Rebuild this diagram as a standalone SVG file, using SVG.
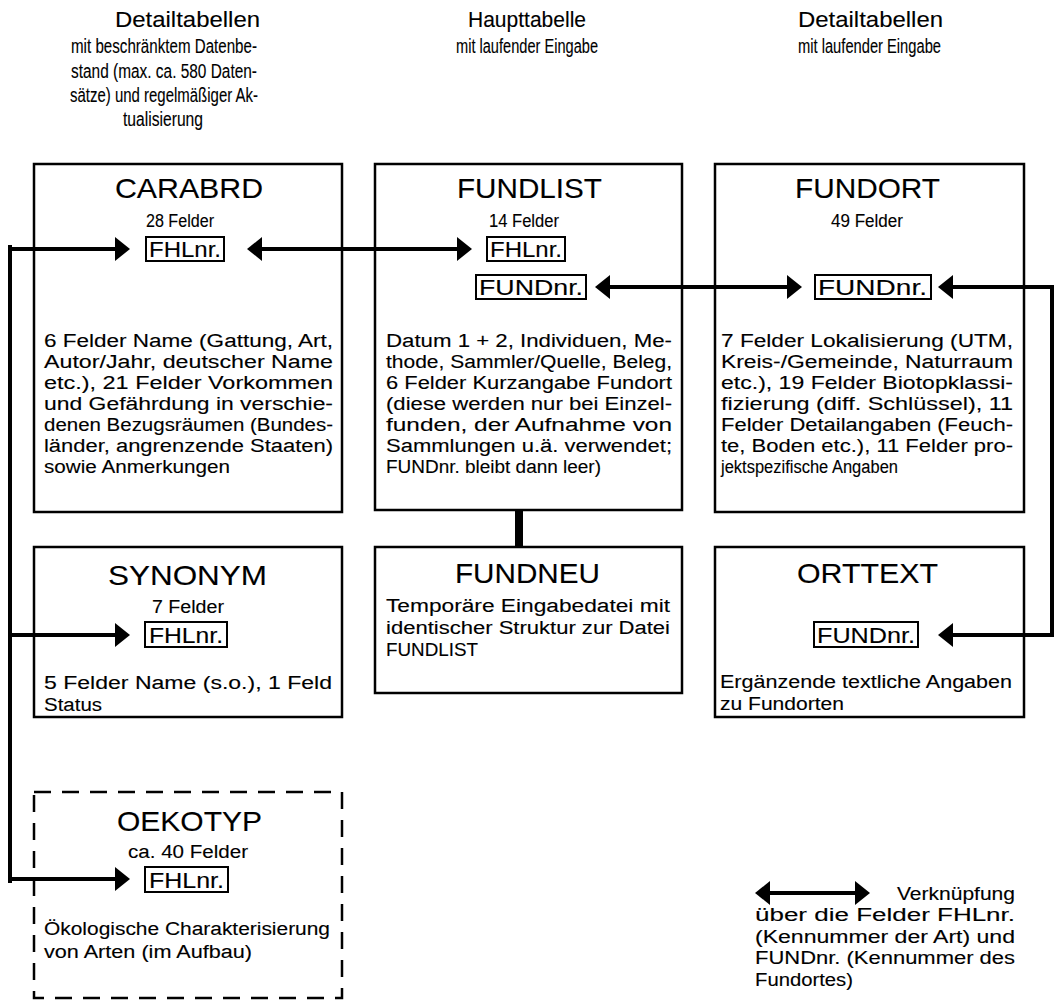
<svg xmlns="http://www.w3.org/2000/svg" width="1059" height="1001" viewBox="0 0 1059 1001">
<style>
text{font-family:"Liberation Sans",Arial,sans-serif;fill:#000;stroke:#000;stroke-width:0.12}
.hd{font-size:22px}
.hs{font-size:20px}
.ti{font-size:28px}
.su{font-size:18px}
.ky{font-size:22px}
.bd{font-size:18px}
.box{fill:#fff;stroke:#000;stroke-width:2.5}
.dash{fill:#fff;stroke:#000;stroke-width:2.5;stroke-dasharray:17 11}
.kbox{fill:none;stroke:#000;stroke-width:2}
.conn{fill:none;stroke:#000;stroke-width:4}
</style>
<defs>
<marker id="ah" viewBox="0 0 15 24" markerWidth="15" markerHeight="24" refX="3" refY="12" orient="auto-start-reverse" markerUnits="userSpaceOnUse"><path d="M0,0 L15,12 L0,24 z" fill="#000"/></marker>
</defs>
<rect width="1059" height="1001" fill="#fff"/>

<g id="headers">
<text class="hd" x="115" y="27" textLength="145" lengthAdjust="spacingAndGlyphs">Detailtabellen</text>
<text class="hs" x="71" y="53" textLength="186" lengthAdjust="spacingAndGlyphs">mit beschränktem Datenbe-</text>
<text class="hs" x="71" y="78" textLength="186" lengthAdjust="spacingAndGlyphs">stand (max. ca. 580 Daten-</text>
<text class="hs" x="70" y="102" textLength="188" lengthAdjust="spacingAndGlyphs">sätze) und regelmäßiger Ak-</text>
<text class="hs" x="123" y="126" textLength="80" lengthAdjust="spacingAndGlyphs">tualisierung</text>
<text class="hd" x="468" y="27" textLength="118" lengthAdjust="spacingAndGlyphs">Haupttabelle</text>
<text class="hs" x="456" y="53" textLength="142" lengthAdjust="spacingAndGlyphs">mit laufender Eingabe</text>
<text class="hd" x="798" y="27" textLength="145" lengthAdjust="spacingAndGlyphs">Detailtabellen</text>
<text class="hs" x="798" y="53" textLength="143" lengthAdjust="spacingAndGlyphs">mit laufender Eingabe</text>
</g>

<g id="carabrd">
<rect class="box" x="34" y="164" width="308" height="348"/>
<text class="ti" x="115" y="198" textLength="148" lengthAdjust="spacingAndGlyphs">CARABRD</text>
<text class="su" x="146" y="227" textLength="68" lengthAdjust="spacingAndGlyphs">28 Felder</text>
<rect class="kbox" x="146" y="237" width="78" height="24"/>
<text class="ky" x="149" y="257" textLength="72" lengthAdjust="spacingAndGlyphs">FHLnr.</text>
<text class="bd" x="44" y="347" textLength="289" lengthAdjust="spacingAndGlyphs">6 Felder Name (Gattung, Art,</text>
<text class="bd" x="44" y="368" textLength="289" lengthAdjust="spacingAndGlyphs">Autor/Jahr, deutscher Name</text>
<text class="bd" x="44" y="389" textLength="289" lengthAdjust="spacingAndGlyphs">etc.), 21 Felder Vorkommen</text>
<text class="bd" x="44" y="410" textLength="289" lengthAdjust="spacingAndGlyphs">und Gefährdung in verschie-</text>
<text class="bd" x="44" y="431" textLength="289" lengthAdjust="spacingAndGlyphs">denen Bezugsräumen (Bundes-</text>
<text class="bd" x="44" y="452" textLength="289" lengthAdjust="spacingAndGlyphs">länder, angrenzende Staaten)</text>
<text class="bd" x="44" y="473" textLength="186" lengthAdjust="spacingAndGlyphs">sowie Anmerkungen</text>
</g>

<g id="fundlist">
<rect class="box" x="375" y="164" width="307" height="346"/>
<text class="ti" x="457" y="198" textLength="145" lengthAdjust="spacingAndGlyphs">FUNDLIST</text>
<text class="su" x="489" y="227" textLength="70" lengthAdjust="spacingAndGlyphs">14 Felder</text>
<rect class="kbox" x="487" y="237" width="78" height="24"/>
<text class="ky" x="490" y="257" textLength="72" lengthAdjust="spacingAndGlyphs">FHLnr.</text>
<rect class="kbox" x="476" y="275" width="110" height="24"/>
<text class="ky" x="479" y="295" textLength="104" lengthAdjust="spacingAndGlyphs">FUNDnr.</text>
<text class="bd" x="386" y="347" textLength="286" lengthAdjust="spacingAndGlyphs">Datum 1 + 2, Individuen, Me-</text>
<text class="bd" x="386" y="368" textLength="286" lengthAdjust="spacingAndGlyphs">thode, Sammler/Quelle, Beleg,</text>
<text class="bd" x="386" y="389" textLength="286" lengthAdjust="spacingAndGlyphs">6 Felder Kurzangabe Fundort</text>
<text class="bd" x="386" y="410" textLength="286" lengthAdjust="spacingAndGlyphs">(diese werden nur bei Einzel-</text>
<text class="bd" x="386" y="431" textLength="286" lengthAdjust="spacingAndGlyphs">funden, der Aufnahme von</text>
<text class="bd" x="386" y="452" textLength="286" lengthAdjust="spacingAndGlyphs">Sammlungen u.ä. verwendet;</text>
<text class="bd" x="386" y="473" textLength="215" lengthAdjust="spacingAndGlyphs">FUNDnr. bleibt dann leer)</text>
</g>

<g id="fundort">
<rect class="box" x="715" y="164" width="309" height="348"/>
<text class="ti" x="795" y="198" textLength="145" lengthAdjust="spacingAndGlyphs">FUNDORT</text>
<text class="su" x="831" y="227" textLength="72" lengthAdjust="spacingAndGlyphs">49 Felder</text>
<rect class="kbox" x="815" y="275" width="116" height="24"/>
<text class="ky" x="818" y="295" textLength="109" lengthAdjust="spacingAndGlyphs">FUNDnr.</text>
<text class="bd" x="721" y="347" textLength="292" lengthAdjust="spacingAndGlyphs">7 Felder Lokalisierung (UTM,</text>
<text class="bd" x="721" y="368" textLength="292" lengthAdjust="spacingAndGlyphs">Kreis-/Gemeinde, Naturraum</text>
<text class="bd" x="721" y="389" textLength="292" lengthAdjust="spacingAndGlyphs">etc.), 19 Felder Biotopklassi-</text>
<text class="bd" x="721" y="410" textLength="292" lengthAdjust="spacingAndGlyphs">fizierung (diff. Schlüssel), 11</text>
<text class="bd" x="721" y="431" textLength="292" lengthAdjust="spacingAndGlyphs">Felder Detailangaben (Feuch-</text>
<text class="bd" x="721" y="452" textLength="292" lengthAdjust="spacingAndGlyphs">te, Boden etc.), 11 Felder pro-</text>
<text class="bd" x="721" y="473" textLength="177" lengthAdjust="spacingAndGlyphs">jektspezifische Angaben</text>
</g>

<g id="synonym">
<rect class="box" x="34" y="547" width="308" height="170"/>
<text class="ti" x="108" y="585" textLength="159" lengthAdjust="spacingAndGlyphs">SYNONYM</text>
<text class="su" x="152" y="613" textLength="72" lengthAdjust="spacingAndGlyphs">7 Felder</text>
<rect class="kbox" x="145" y="622" width="82" height="25"/>
<text class="ky" x="149" y="643" textLength="74" lengthAdjust="spacingAndGlyphs">FHLnr.</text>
<text class="bd" x="44" y="689" textLength="288" lengthAdjust="spacingAndGlyphs">5 Felder Name (s.o.), 1 Feld</text>
<text class="bd" x="44" y="711" textLength="58" lengthAdjust="spacingAndGlyphs">Status</text>
</g>

<g id="fundneu">
<rect class="box" x="375" y="547" width="307" height="146"/>
<text class="ti" x="455" y="583" textLength="145" lengthAdjust="spacingAndGlyphs">FUNDNEU</text>
<text class="bd" x="386" y="612" textLength="284" lengthAdjust="spacingAndGlyphs">Temporäre Eingabedatei mit</text>
<text class="bd" x="386" y="634" textLength="284" lengthAdjust="spacingAndGlyphs">identischer Struktur zur Datei</text>
<text class="bd" x="386" y="656" textLength="92" lengthAdjust="spacingAndGlyphs">FUNDLIST</text>
</g>

<g id="orttext">
<rect class="box" x="715" y="547" width="309" height="170"/>
<text class="ti" x="797" y="583" textLength="141" lengthAdjust="spacingAndGlyphs">ORTTEXT</text>
<rect class="kbox" x="814" y="622" width="104" height="25"/>
<text class="ky" x="817" y="643" textLength="98" lengthAdjust="spacingAndGlyphs">FUNDnr.</text>
<text class="bd" x="720" y="688" textLength="292" lengthAdjust="spacingAndGlyphs">Ergänzende textliche Angaben</text>
<text class="bd" x="720" y="710" textLength="124" lengthAdjust="spacingAndGlyphs">zu Fundorten</text>
</g>

<g id="oekotyp">
<rect class="dash" x="34" y="792" width="308" height="206"/>
<text class="ti" x="117" y="831" textLength="145" lengthAdjust="spacingAndGlyphs">OEKOTYP</text>
<text class="su" x="128" y="858" textLength="120" lengthAdjust="spacingAndGlyphs">ca. 40 Felder</text>
<rect class="kbox" x="145" y="867" width="83" height="25"/>
<text class="ky" x="149" y="888" textLength="75" lengthAdjust="spacingAndGlyphs">FHLnr.</text>
<text class="bd" x="44" y="935" textLength="286" lengthAdjust="spacingAndGlyphs">Ökologische Charakterisierung</text>
<text class="bd" x="44" y="958" textLength="208" lengthAdjust="spacingAndGlyphs">von Arten (im Aufbau)</text>
</g>

<g id="connectors">
<path class="conn" d="M10,247 V881" stroke-linecap="square"/>
<path class="conn" d="M10,249 H118" marker-end="url(#ah)"/>
<path class="conn" d="M10,635 H118" marker-end="url(#ah)"/>
<path class="conn" d="M10,879 H118" marker-end="url(#ah)"/>
<path class="conn" d="M259,249 H460" marker-start="url(#ah)" marker-end="url(#ah)"/>
<path class="conn" d="M607,287 H790" marker-start="url(#ah)" marker-end="url(#ah)"/>
<path class="conn" d="M950,287 H1052 V635 H950" marker-start="url(#ah)" marker-end="url(#ah)"/>
<rect x="515" y="510" width="8" height="37" fill="#000"/>
</g>

<g id="legend">
<path class="conn" d="M767,893 H858" marker-start="url(#ah)" marker-end="url(#ah)"/>
<text class="bd" x="897" y="900" textLength="118" lengthAdjust="spacingAndGlyphs">Verknüpfung</text>
<text class="bd" x="755" y="921" textLength="260" lengthAdjust="spacingAndGlyphs">über die Felder FHLnr.</text>
<text class="bd" x="755" y="943" textLength="260" lengthAdjust="spacingAndGlyphs">(Kennummer der Art) und</text>
<text class="bd" x="755" y="964" textLength="260" lengthAdjust="spacingAndGlyphs">FUNDnr. (Kennummer des</text>
<text class="bd" x="755" y="986" textLength="98" lengthAdjust="spacingAndGlyphs">Fundortes)</text>
</g>
</svg>
